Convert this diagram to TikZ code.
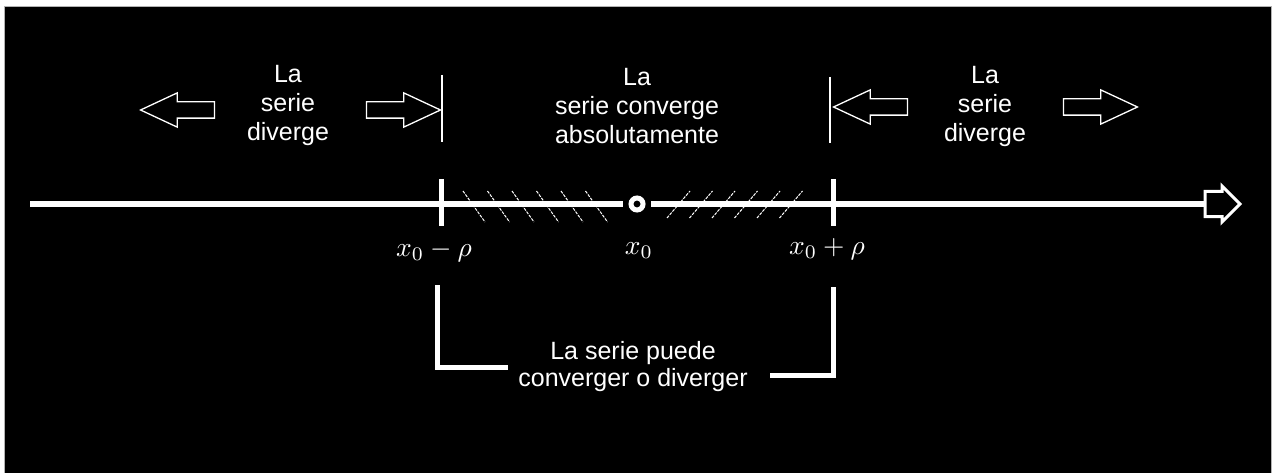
\documentclass[tikz,border=0pt]{standalone}
\usepackage{fontspec}
\setmainfont{Liberation Sans}
\usepackage{amsmath}
\usetikzlibrary{positioning, arrows.meta, shapes.arrows}

\newcommand{\bigmath}[1]{\scalebox{2.75}{$#1$}}

\begin{document}
\begin{tikzpicture}[
    x=1pt, y=1pt,
    txt/.style={text=white, align=center, inner sep=0pt,
                font=\fontsize{25}{29}\selectfont},
    lbl/.style={text=white, inner sep=0pt, font=\normalsize},
    blk/.style={single arrow, draw=white, line width=1.3pt, anchor=tip,
                inner xsep=0pt, inner ysep=7.5pt, minimum height=74pt,
                single arrow head extend=9pt, single arrow tip angle=50},
    axis/.style={draw=white, line width=5pt},
    tick/.style={draw=white, line width=5pt},
    bar/.style={draw=white, line width=1.8pt},
    hatch/.style={draw=white, line width=1pt, dash pattern=on 3pt off 1.2pt}
]
\useasboundingbox (0,0) rectangle (1274,472);
\fill[white] (0,0) rectangle (1274,472);
\filldraw[fill=black, draw=gray!60, line width=1pt] (4,-2) rectangle (1271,465);

% real axis
\coordinate (axL) at (30,268);
\node[circle, draw=white, fill=black, line width=5pt, minimum size=12pt,
      inner sep=0pt, outer sep=8pt] (c0) at (637,268) {};
\node[single arrow, draw=white, line width=3pt, minimum height=35pt,
      inner xsep=0pt, inner ysep=11pt, single arrow head extend=5.5pt,
      outer sep=0pt, anchor=tip] (axR) at (1240,268) {};
\draw[axis] (axL) -- (c0);
\draw[axis] (c0) -- (axR.tail);

% interval ends
\coordinate (lt) at (441,268);
\coordinate (rt) at (833,268);
\draw[tick] ([yshift=25pt]lt) -- ([yshift=-22pt]lt);
\draw[tick] ([yshift=25pt]rt) -- ([yshift=-22pt]rt);

% hatching
\foreach \i in {0,...,5}
  \draw[hatch] ({463+24.5*\i},281) -- ++(22,-31);
\foreach \i in {0,...,5}
  \draw[hatch] ({667+22.5*\i},254) -- ++(23,27);

\node[lbl] (xmin) at (434,221) {\bigmath{x_0-\rho}};
\node[lbl] (xmid) at (639,221) {\bigmath{x_0}};
\node[lbl] (xmax) at (827,223) {\bigmath{x_0+\rho}};

% regions
\draw[bar] (442,397) -- (442,330);
\draw[bar] (830,395) -- (830,329);
\node[blk, shape border rotate=180] (divLl) at (139,362) {};
\node[blk] (divLr) at (442,362) {};
\node[blk, shape border rotate=180] (divRl) at (832,365) {};
\node[blk] (divRr) at (1139,365) {};

\node[txt] (divL) at (288,367) {La\\serie\\diverge};
\node[txt] (conv) at (637,366) {La\\serie converge\\absolutamente};
\node[txt] (divR) at (985,366) {La\\serie\\diverge};

% end points
\node[txt, font=\fontsize{25}{27}\selectfont] (may) at (633,105)
     {La serie puede\\converger o diverger};
\coordinate (bLt) at (437,187);
\coordinate (bLe) at (508,105);
\coordinate (bRt) at (833,185);
\coordinate (bRe) at (770,97);
\draw[tick] (bLt) |- (bLe);
\draw[tick] (bRt) |- (bRe);
\end{tikzpicture}
\end{document}
